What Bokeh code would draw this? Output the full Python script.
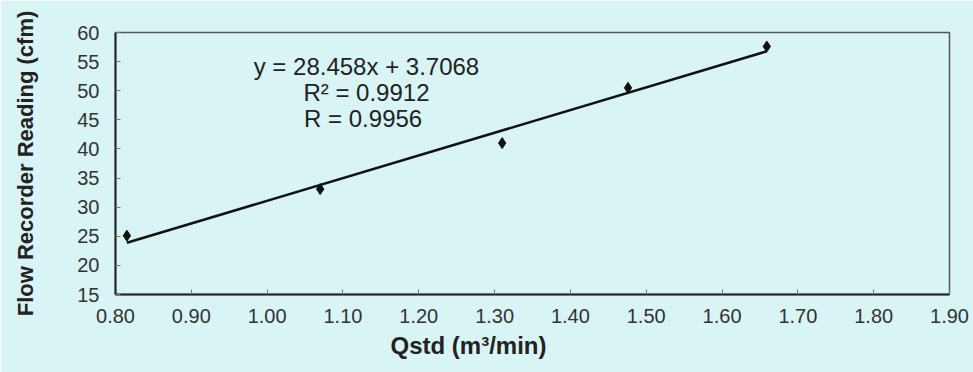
import numpy as np
from bokeh.plotting import figure
from bokeh.models import FixedTicker, PrintfTickFormatter, Label, Range1d, Title
from bokeh.embed import file_html
from bokeh.resources import INLINE

# Data
qstd = [0.815, 1.07, 1.31, 1.476, 1.659]          # m3/min
reading = [25.1, 33.1, 41.0, 50.5, 57.6]           # cfm
x_ticks = [0.80, 0.90, 1.00, 1.10, 1.20, 1.30, 1.40, 1.50, 1.60, 1.70, 1.80, 1.90]
y_ticks = [15, 20, 25, 30, 35, 40, 45, 50, 55, 60]
eq_lines = ["y = 28.458x + 3.7068", "R\u00b2 = 0.9912", "R =  0.9956"]
x_title = "Qstd (m\u00b3/min)"
y_title = "Flow Recorder Reading (cfm)"

BG = "#d9f4f4"
FONT = "Liberation Sans"

p = figure(width=973, height=372, output_backend="svg", toolbar_location=None,
           x_range=Range1d(0.80, 1.90), y_range=Range1d(15, 60),
           min_border_left=115, min_border_right=24, min_border_top=32, min_border_bottom=78)
p.background_fill_color = BG
p.border_fill_color = BG
p.outline_line_color = "#555555"
p.outline_line_width = 1.5
p.grid.visible = False

for ax in (p.xaxis[0], p.yaxis[0]):
    ax.major_tick_in = 5
    ax.major_tick_out = 0
    ax.minor_tick_line_color = None
    ax.major_tick_line_color = "#777777"
    ax.axis_line_color = "#222222"
    ax.axis_line_width = 2
    ax.major_label_text_font = FONT
    ax.major_label_text_font_size = "20px"
    ax.major_label_text_color = "#333333"

p.xaxis.ticker = FixedTicker(ticks=x_ticks)
p.xaxis.formatter = PrintfTickFormatter(format="%.2f")
p.yaxis.ticker = FixedTicker(ticks=y_ticks)
p.xaxis.major_label_standoff = 14
p.yaxis.major_label_standoff = 16

p.yaxis.axis_label = y_title
p.yaxis.axis_label_text_font = FONT
p.yaxis.axis_label_text_font_style = "bold"
p.yaxis.axis_label_text_font_size = "22px"
p.yaxis.axis_label_text_color = "#222222"
p.yaxis.axis_label_standoff = 36

# x title: left of the frame centre as in the reference
p.add_layout(Title(text=x_title, align="left", offset=275, standoff=8,
                   text_font=FONT, text_font_style="bold", text_font_size="24px",
                   text_color="#222222"), "below")

# linear trend line fitted to the data
slope, intercept = np.polyfit(qstd, reading, 1)
xs = [min(qstd), max(qstd)]
ys = [slope * v + intercept for v in xs]
p.line(xs, ys, line_color="#111111", line_width=2.5)

p.scatter(qstd, reading, marker="diamond", size=11, fill_color="#111111", line_color="#111111")

for txt, yy in zip(eq_lines, [54.2, 49.7, 45.2]):
    p.add_layout(Label(x=1.131, y=yy, text=txt, text_align="center", text_baseline="middle",
                       text_font=FONT, text_font_size="24px", text_color="#222222"))

html = file_html(p, INLINE)
html = html.replace("<body>", '<body style="background:%s">' % BG, 1)
open("out.html", "w").write(html)
